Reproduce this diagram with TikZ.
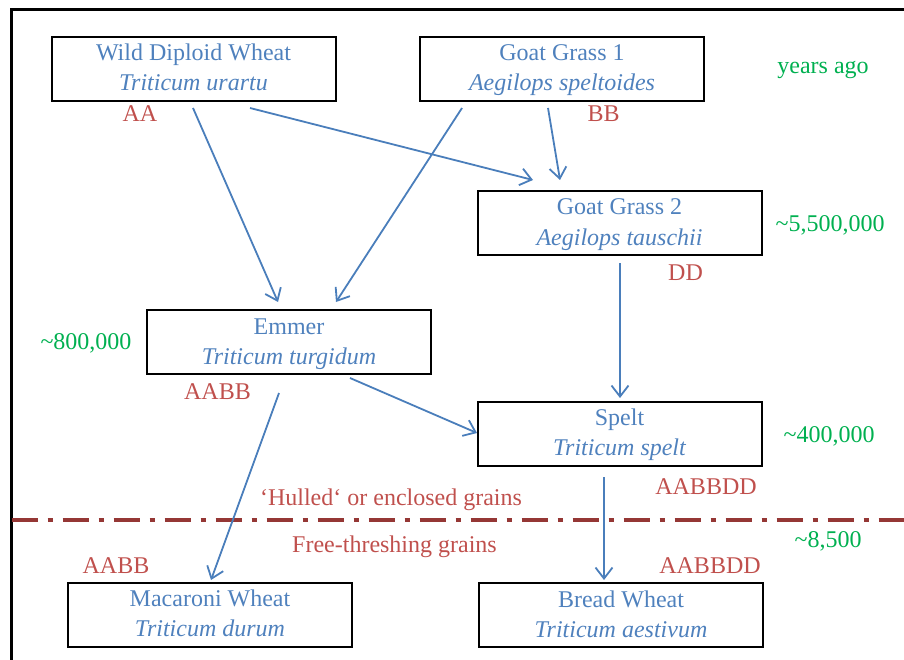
\documentclass[tikz,border=0pt]{standalone}
\usepackage{fontspec}
\setmainfont{Liberation Serif}
\usetikzlibrary{arrows.meta,calc}
\definecolor{tblue}{HTML}{4F81BD}
\definecolor{ablue}{HTML}{4A7EBB}
\definecolor{gred}{HTML}{C0504D}
\definecolor{ygreen}{HTML}{00B050}
\definecolor{lred}{HTML}{953735}
\begin{document}
\begin{tikzpicture}[x=1pt,y=-1pt,
  wbox/.style={draw=black,line width=2pt,minimum width=284pt,minimum height=64pt,inner sep=0pt},
  wname/.style={font=\fontsize{24}{28}\selectfont,text=tblue,anchor=base,inner sep=0pt},
  wsp/.style={wname,font=\fontsize{24}{28}\selectfont\itshape},
  geno/.style={font=\fontsize{24}{28}\selectfont,text=gred,anchor=base,inner sep=0pt},
  yrs/.style={geno,text=ygreen},
  arr/.style={draw=ablue,line width=1.8pt,-{Straight Barb[length=11pt,width=17pt]}}]
\useasboundingbox (0,0) rectangle (904,660);
% frame
\draw[line width=3.2pt] (11.5,660) -- (11.5,9.5) -- (904,9.5);
% divider
\draw[lred,line width=4pt,dash pattern=on 26pt off 10pt on 5pt off 10pt] (11.5,520) -- (904,520);
% boxes
\node[wbox] (wild) at (193.5,69) {};
\node[wbox] (gg1) at (562,69) {};
\node[wbox] (gg2) at (619.5,223) {};
\node[wbox] (emmer) at (289,341.5) {};
\node[wbox] (spelt) at (619.5,433.5) {};
\node[wbox] (mac) at (210,614.5) {};
\node[wbox] (bread) at (621,615) {};
% box texts
\node[wname] (wildT) at ($(wild.north)+(0,25)$) {Wild Diploid Wheat};
\node[wsp] (wildS) at ($(wild.north)+(0,55)$) {Triticum urartu};
\node[wname] (gg1T) at ($(gg1.north)+(0,25)$) {Goat Grass 1};
\node[wsp] (gg1S) at ($(gg1.north)+(0,55)$) {Aegilops speltoides};
\node[wname] (gg2T) at ($(gg2.north)+(0,25)$) {Goat Grass 2};
\node[wsp] (gg2S) at ($(gg2.north)+(0,55)$) {Aegilops tauschii};
\node[wname] (emmerT) at ($(emmer.north)+(0,26)$) {Emmer};
\node[wsp] (emmerS) at ($(emmer.north)+(0,56)$) {Triticum turgidum};
\node[wname] (speltT) at ($(spelt.north)+(0,25)$) {Spelt};
\node[wsp] (speltS) at ($(spelt.north)+(0,55)$) {Triticum spelt};
\node[wname] (macT) at ($(mac.north)+(0,25)$) {Macaroni Wheat};
\node[wsp] (macS) at ($(mac.north)+(0,55)$) {Triticum durum};
\node[wname] (breadT) at ($(bread.north)+(0,25)$) {Bread Wheat};
\node[wsp] (breadS) at ($(bread.north)+(0,55)$) {Triticum aestivum};
% arrows
\draw[arr] ($(wild)+(-0.5,39)$) -- ($(emmer)+(-11,-39.5)$);
\draw[arr] ($(wild)+(56.5,39)$) -- ($(gg2)+(-86.5,-43)$);
\draw[arr] ($(gg1)+(-100,39)$) -- ($(emmer)+(47,-39.5)$);
\draw[arr] ($(gg1)+(-14,39)$) -- ($(gg2)+(-59.5,-43)$);
\draw[arr] ($(gg2)+(0.5,40)$) -- ($(spelt)+(0.5,-35.5)$);
\draw[arr] ($(emmer)+(61,36.5)$) -- ($(spelt)+(-142.5,-0.5)$);
\draw[arr] ($(emmer)+(-10,51.5)$) -- ($(mac)+(1,-34.5)$);
\draw[arr] ($(spelt)+(-15.5,43.5)$) -- ($(bread)+(-17,-35)$);
% labels
\node[geno] (gAA) at (140,122) {AA};
\node[geno] (gBB) at (603.5,122) {BB};
\node[yrs] (ya) at (823,74) {years ago};
\node[yrs] (y55) at (830,232) {\textasciitilde5,500,000};
\node[geno] (gDD) at (685.5,280) {DD};
\node[yrs] (y800) at (86,349) {\textasciitilde800,000};
\node[geno] (gAABBa) at (217.5,399) {AABB};
\node[yrs] (y400) at (829,442) {\textasciitilde400,000};
\node[geno] (gAABBDDa) at (706,494) {AABBDD};
\node[geno] (hull) at (391,505) {‘Hulled‘ or enclosed grains};
\node[geno] (free) at (394.5,552) {Free-threshing grains};
\node[yrs] (y85) at (828,547) {\textasciitilde8,500};
\node[geno] (gAABBb) at (116,573) {AABB};
\node[geno] (gAABBDDb) at (710,573) {AABBDD};
\end{tikzpicture}
\end{document}
